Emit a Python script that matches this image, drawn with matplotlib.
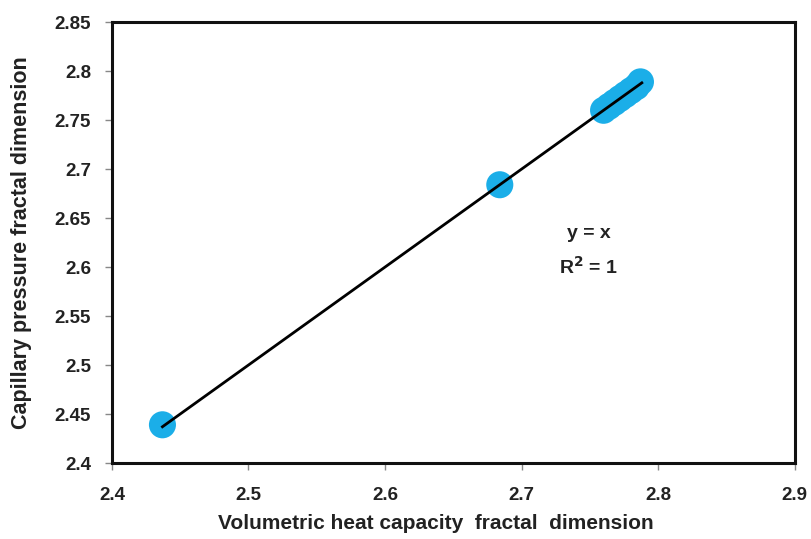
import matplotlib.pyplot as plt

# data
volumetric = [2.437, 2.684, 2.760, 2.764, 2.768, 2.772, 2.776, 2.780, 2.784, 2.787]
capillary = [2.439, 2.684, 2.760, 2.764, 2.768, 2.772, 2.776, 2.780, 2.784, 2.789]
fit_x = [2.437, 2.788]
xticks = [2.4, 2.5, 2.6, 2.7, 2.8, 2.9]
yticks = [2.4, 2.45, 2.5, 2.55, 2.6, 2.65, 2.7, 2.75, 2.8, 2.85]

plt.rcParams['font.family'] = ['Liberation Sans', 'DejaVu Sans']
plt.rcParams['font.weight'] = 'bold'

fig = plt.figure(figsize=(8.11, 5.39), dpi=100)
ax = fig.add_axes([0.138, 0.141, 0.842, 0.818])

ax.scatter(volumetric, capillary, s=380, color='#1BAEE8', edgecolor='none', zorder=2)
ax.plot(fit_x, fit_x, color='black', lw=2, zorder=3)

ax.set_xlim(2.4, 2.9)
ax.set_ylim(2.4, 2.85)
ax.set_xticks(xticks)
ax.set_xticklabels([f'{v:g}' for v in xticks], fontweight='bold')
ax.set_yticks(yticks)
ax.set_yticklabels([f'{v:g}' for v in yticks], fontweight='bold')
ax.tick_params(direction='out', length=5, width=1, colors='#888888',
               labelcolor='#222222', labelsize=13.5, pad=10)
ax.tick_params(axis='x', pad=12)

for s in ax.spines.values():
    s.set_linewidth(2.2)
    s.set_color('#111111')

ax.set_xlabel('Volumetric heat capacity  fractal  dimension', fontsize=15,
              fontweight='bold', color='#222222', labelpad=8)
ax.xaxis.set_label_coords(0.475, -0.115)
ax.set_ylabel('Capillary pressure fractal dimension', fontsize=15.5,
              fontweight='bold', color='#222222', labelpad=16)

ax.text(2.749, 2.634, 'y = x', ha='center', va='center', fontsize=14,
        fontweight='bold', color='#222222')
ax.text(2.749, 2.600, 'R$^\\mathbf{2}$ = 1', ha='center', va='center', fontsize=14,
        fontweight='bold', color='#222222')

fig.savefig('out.png', dpi=100)
